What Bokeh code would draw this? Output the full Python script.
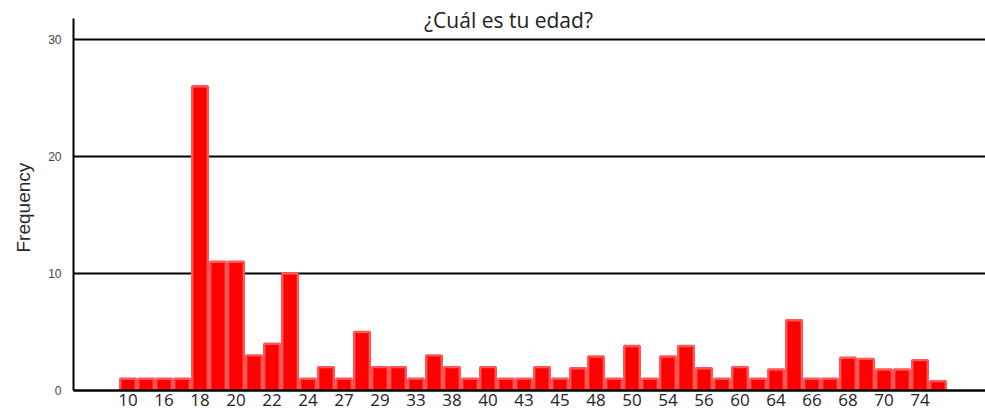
from bokeh.plotting import figure
from bokeh.models import Range1d, FixedTicker, Label, Title, ColumnDataSource
from bokeh.embed import file_html
from bokeh.resources import INLINE

# Frequencies of each bar (left to right)
counts = [1, 1, 1, 1, 26, 11, 11, 3, 4, 10,
          1, 2, 1, 5, 2, 2, 1, 3, 2, 1,
          2, 1, 1, 2, 1, 1.9, 2.9, 1, 3.8, 1,
          2.9, 3.8, 1.9, 1, 2, 1, 1.8, 6, 1, 1,
          2.8, 2.7, 1.8, 1.8, 2.6, 0.8]
# Labels shown under every other bar
tick_labels = ["10", "16", "18", "20", "22", "24", "27", "29", "33", "38", "40",
               "43", "45", "48", "50", "54", "56", "60", "64", "66", "68", "70", "74"]
y_ticks = [0, 10, 20, 30]
title_text = "¿Cuál es tu edad?"
y_label = "Frequency"

idx = list(range(len(counts)))
tick_pos = idx[::2]
src = ColumnDataSource(dict(x=idx, top=counts))

W, H = 985, 414
LEFT, BOTTOM = 73, 24
PX_PER_BAR = 18.0
x0 = -54.5 / PX_PER_BAR
x1 = x0 + (W - LEFT) / PX_PER_BAR
px_per_unit = 351 / 30.0           # 30 units between gridline 0 and gridline 30
ymax = (H - BOTTOM) / px_per_unit  # frame reaches the top of the canvas
axis_top = ymax - 18 / px_per_unit  # visible y-axis line stops 18px below the top

p = figure(width=W, height=H, output_backend="svg", toolbar_location=None,
           x_range=Range1d(x0, x1), y_range=Range1d(0, ymax),
           min_border_left=LEFT, min_border_right=0, min_border_top=0,
           min_border_bottom=BOTTOM)
p.outline_line_color = None
p.background_fill_color = "white"
p.border_fill_color = "white"

p.vbar(x="x", top="top", width=0.87, bottom=0, source=src,
       fill_color="#ff0000", line_color="#ff5757", line_width=2.4)

# x axis
xa = p.xaxis[0]
xa.ticker = FixedTicker(ticks=tick_pos)
xa.major_label_overrides = {t: l for t, l in zip(tick_pos, tick_labels)}
xa.axis_line_color = "black"
xa.axis_line_width = 2.5
xa.major_tick_line_color = None
xa.minor_tick_line_color = None
xa.major_tick_out = 0
xa.major_tick_in = 0
xa.major_label_standoff = 3
xa.major_label_text_font = "Open Sans"
xa.major_label_text_font_size = "17px"
xa.major_label_text_color = "#222222"

# y axis
ya = p.yaxis[0]
ya.ticker = FixedTicker(ticks=y_ticks)
ya.bounds = (0, axis_top)
ya.axis_line_color = "black"
ya.axis_line_width = 2
ya.major_tick_line_color = None
ya.minor_tick_line_color = None
ya.major_tick_out = 0
ya.major_tick_in = 0
ya.major_label_standoff = 12
ya.major_label_text_font = "Liberation Sans"
ya.major_label_text_font_size = "12px"
ya.major_label_text_color = "#444444"

# y axis title, starting 138px above the frame bottom
ytitle = Title(text=y_label, align="left", offset=138, standoff=19,
               vertical_align="top",
               text_font="Liberation Sans", text_font_style="normal",
               text_font_size="19px", text_color="#2a2a2a")
p.add_layout(ytitle, "left")

p.xgrid.grid_line_color = None
p.ygrid.ticker = FixedTicker(ticks=y_ticks)
p.ygrid.grid_line_color = "black"
p.ygrid.grid_line_width = 2

title = Label(x=x0 + 435 / PX_PER_BAR, y=ymax - 19.5 / px_per_unit, text=title_text,
              text_align="center", text_baseline="middle",
              text_font="Open Sans", text_font_size="21px", text_color="#222222")
p.add_layout(title)

open("out.html", "w").write(file_html(p, INLINE))
